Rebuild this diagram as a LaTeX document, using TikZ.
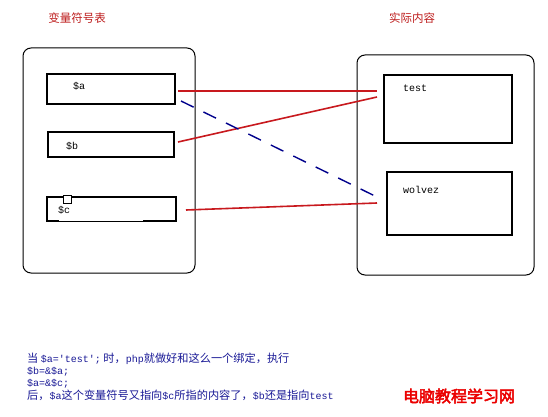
\documentclass[tikz,border=0pt]{standalone}
\usepackage{fontspec}
\newfontfamily\cjk{Noto Sans CJK SC}
\newfontfamily\cjkbold[FakeBold=3]{Noto Sans CJK SC}
\newfontfamily\monof{Liberation Mono}
\newcommand\mm[1]{{\monof\fontsize{10}{12}\selectfont #1}}
\definecolor{titlered}{RGB}{190,30,30}
\definecolor{linered}{RGB}{200,25,30}
\definecolor{dashblue}{RGB}{0,0,140}
\definecolor{textblue}{RGB}{25,25,150}
\definecolor{markred}{RGB}{235,0,0}
\tikzset{
  outerbox/.style={draw=black, line width=1pt, rounded corners=8pt, inner sep=0pt},
  varbox/.style={draw=black, line width=2pt, inner sep=0pt},
  boxlabel/.style={inner sep=0pt, anchor=west, font=\monof\fontsize{10}{12}\selectfont},
  titlelbl/.style={inner sep=0pt, text=titlered, font=\cjk\fontsize{11.5}{14}\selectfont},
  noteline/.style={inner sep=0pt, anchor=base west, text=textblue, font=\cjk\fontsize{11.2}{13}\selectfont},
  reflink/.style={draw=linered, line width=1.6pt},
  oldlink/.style={draw=dashblue, line width=1.4pt, dash pattern=on 14pt off 11pt}
}
\begin{document}
\begin{tikzpicture}[x=1pt,y=-1pt]
\useasboundingbox (0,0) rectangle (548,417);
\fill[white] (0,0) rectangle (548,417);

% titles
\node[titlelbl] (t1) at (77,18) {变量符号表};
\node[titlelbl] (t2) at (412,18) {实际内容};

% outer containers
\node[outerbox, minimum width=172pt, minimum height=225pt] (L) at (109,160.5) {};
\node[outerbox, minimum width=177pt, minimum height=220pt] (R) at (445.5,165) {};

% variable boxes
\node[varbox, minimum width=128pt, minimum height=30pt] (a) at (111,89) {};
\node[varbox, minimum width=126pt, minimum height=25pt] (b) at (111,144.5) {};
\node[varbox, minimum width=129pt, minimum height=24pt] (c) at (111.5,209) {};
\draw[white, line width=1.1pt] (59,220.4) -- (143,220.4);
\node[draw=black, fill=white, line width=0.8pt, minimum size=8pt, inner sep=0pt] (sq) at (67,199) {};

\node[boxlabel] (la) at (73,86) {\$a};
\node[boxlabel] (lb) at (66,146) {\$b};
\node[boxlabel] (lc) at (58,210) {\$c};

% content boxes
\node[varbox, minimum width=128pt, minimum height=68pt] (test) at (448,109) {};
\node[varbox, minimum width=125pt, minimum height=63pt] (wolvez) at (449.5,203.5) {};
\node[boxlabel] (ltest) at (403,88) {test};
\node[boxlabel] (lwolvez) at (403,190) {wolvez};

% connector end points
\coordinate (aR) at ([shift={(2,2)}]a.east);
\coordinate (aD) at ([shift={(5,12)}]a.east);
\coordinate (bR) at ([shift={(3,-2.5)}]b.east);
\coordinate (cR) at ([shift={(9,1)}]c.east);
\coordinate (tA) at ([shift={(-6,-18)}]test.west);
\coordinate (tB) at ([shift={(-6,-12)}]test.west);
\coordinate (wA) at ([shift={(-9,-6.5)}]wolvez.west);
\coordinate (wC) at ([shift={(-9,-0.5)}]wolvez.west);

\draw[reflink] (aR) -- (tA);
\draw[reflink] (bR) -- (tB);
\draw[oldlink] (aD) -- (wA);
\draw[reflink] (cR) -- (wC);

% note text
\node[noteline] (n1) at (27,362) {当 \mm{\$a='test';} 时，\mm{php}就做好和这么一个绑定，执行};
\node[noteline] (n2) at (27,374) {\mm{\$b=\&\$a;}};
\node[noteline] (n3) at (27,386.5) {\mm{\$a=\&\$c;}};
\node[noteline] (n4) at (27,399) {后，\mm{\$a}这个变量符号又指向\mm{\$c}所指的内容了，\mm{\$b}还是指向\mm{test}};

% watermark
\node[inner sep=0pt, text=markred, font=\cjkbold\fontsize{16}{18}\selectfont] (wm) at (459,396) {电脑教程学习网};
\end{tikzpicture}
\end{document}
